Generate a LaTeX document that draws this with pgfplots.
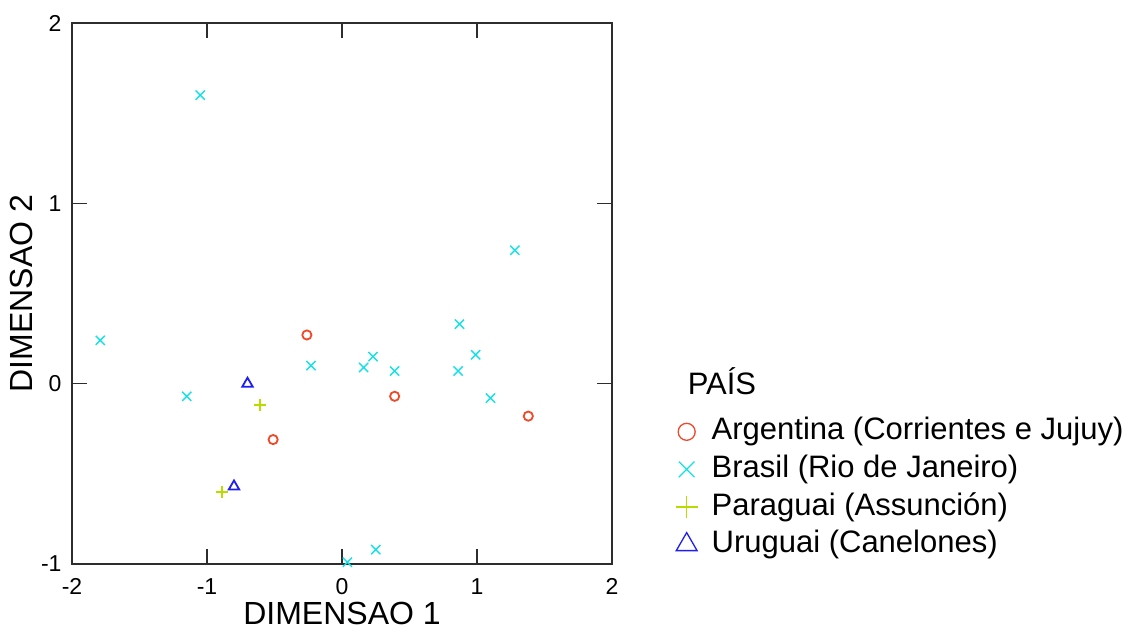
\documentclass[border=0pt]{standalone}
\usepackage{pgfplots}
\pgfplotsset{compat=1.18}
\usepackage{fontspec}
\setmainfont{Liberation Sans}
\definecolor{cArg}{RGB}{240,72,40}
\definecolor{cBra}{RGB}{20,225,230}
\definecolor{cPar}{RGB}{185,220,0}
\definecolor{cUru}{RGB}{30,30,240}
\definecolor{axgray}{RGB}{45,45,45}
\begin{document}
\begin{tikzpicture}
\path[use as bounding box] (0pt,0pt) rectangle (1130pt,632pt);
\begin{axis}[
  at={(72pt,68pt)}, anchor=south west,
  scale only axis, width=540pt, height=541pt,
  xmin=-2, xmax=2, ymin=-1, ymax=2,
  xtick={-2,-1,0,1,2}, xticklabels={-2,-1,0,1,2},
  ytick={-1,0,1,2}, yticklabels={-1,0,1,2},
  tick align=inside, major tick length=15pt,
  tick style={axgray, line width=1.6pt},
  axis line style={axgray, line width=1.6pt},
  ticklabel style={font=\fontsize{23}{27}\selectfont},
  xticklabel style={yshift=-11pt},
  yticklabel style={xshift=-7pt},
  xlabel={DIMENSAO 1}, ylabel={DIMENSAO 2},
  label style={font=\fontsize{32}{38}\selectfont},
  xlabel style={yshift=0pt},
  ylabel style={yshift=1pt},
  clip=false,
  legend style={at={(1.112,0.278)}, anchor=north west, draw=none, fill=none,
    font=\fontsize{31}{37}\selectfont, row sep=5.6pt,
    nodes={inner sep=2pt, text height=22pt, text depth=6pt}},
  legend cell align=left,
  legend image code/.code={\path[draw=none,fill=none] (0pt,-8pt) rectangle (31pt,8pt);
    \draw[#1] plot coordinates {(8pt,0pt)};},
]
\addlegendimage{only marks, mark=o, mark size=8.5pt, cArg, mark options={line width=1.3pt}}
\addlegendentry{Argentina (Corrientes e Jujuy)}
\addlegendimage{only marks, mark=x, mark size=11pt, cBra, mark options={line width=1.2pt}}
\addlegendentry{Brasil (Rio de Janeiro)}
\addlegendimage{only marks, mark=+, mark size=11pt, cPar, mark options={line width=1.2pt}}
\addlegendentry{Paraguai (Assunción)}
\addlegendimage{only marks, mark=triangle, mark size=12pt, cUru, mark options={line width=1.3pt}}
\addlegendentry{Uruguai (Canelones)}

\addplot[only marks, mark=o, mark size=4.6pt, cArg, mark options={line width=1.8pt}, forget plot]
coordinates {(-0.26,0.27) (0.39,-0.07) (-0.51,-0.31) (1.38,-0.18)};
\addplot[only marks, mark=x, mark size=6.5pt, cBra, mark options={line width=1.4pt}, forget plot]
coordinates {(-1.05,1.60) (1.28,0.74) (-1.79,0.24) (-1.15,-0.07) (-0.23,0.10)
 (0.16,0.09) (0.23,0.15) (0.39,0.07) (0.87,0.33) (0.99,0.16) (0.86,0.07)
 (1.10,-0.08) (0.25,-0.92) (0.04,-0.99)};
\addplot[only marks, mark=+, mark size=6pt, cPar, mark options={line width=1.9pt, draw=cPar}, forget plot]
coordinates {(-0.61,-0.12) (-0.89,-0.60)};
\addplot[only marks, mark=triangle, mark size=6pt, cUru, mark options={line width=1.8pt}, forget plot]
coordinates {(-0.70,0.00) (-0.80,-0.57)};
\node[anchor=west, font=\fontsize{31}{37}\selectfont, inner sep=0pt] at (rel axis cs:1.14,0.337) {PAÍS};
\end{axis}
\end{tikzpicture}
\end{document}
